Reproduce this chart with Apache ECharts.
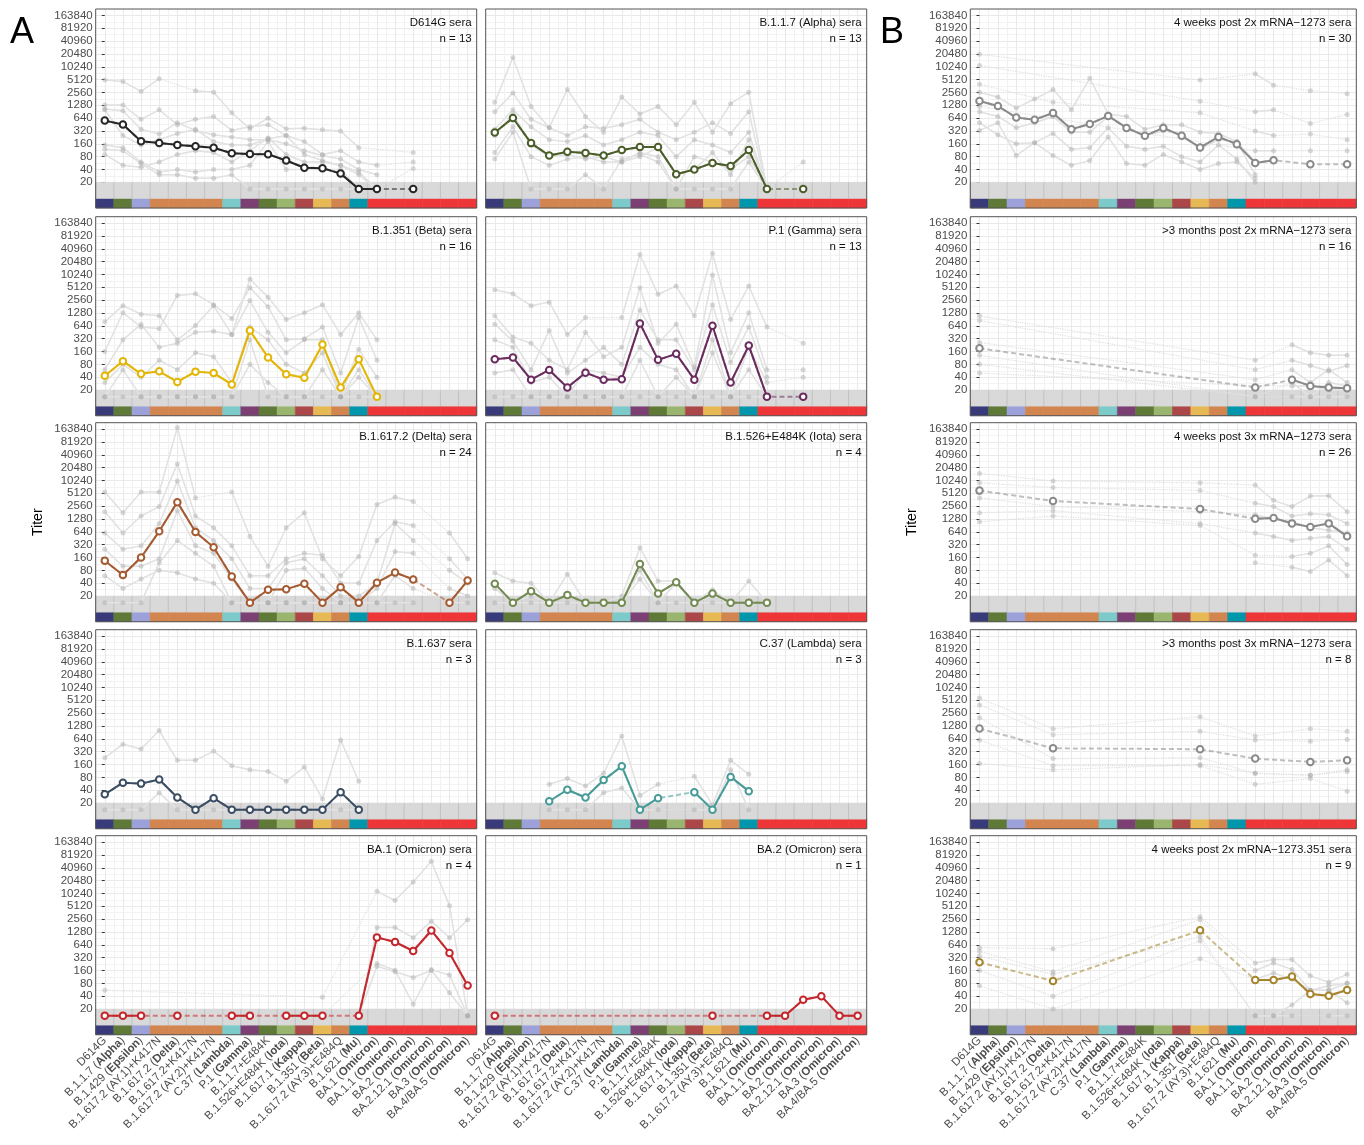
<!DOCTYPE html>
<html>
<head>
<meta charset="utf-8">
<script src="https://cdn.jsdelivr.net/npm/echarts@6/dist/echarts.min.js"></script>
<style>
html, body { margin: 0; background: #fff; }
#chart { width: 1364px; height: 1145px; }
</style>
</head>
<body>
<div id="chart"></div>
<script>
var _ = null;

// variants tested (x axis) and their colour key
var variants = ['D614G', 'B.1.1.7 (Alpha)', 'B.1.429 (Epsilon)', 'B.1.617.2 (AY.1)+K417N', 'B.1.617.2 (Delta)',
    'B.1.617.2+K417N', 'B.1.617.2 (AY.2)+K417N', 'C.37 (Lambda)', 'P.1 (Gamma)', 'B.1.1.7+E484K',
    'B.1.526+E484K (Iota)', 'B.1.617.1 (Kappa)', 'B.1.351 (Beta)', 'B.1.617.2 (AY.3)+E484Q', 'B.1.621 (Mu)',
    'BA.1 (Omicron)', 'BA.1.1 (Omicron)', 'BA.2 (Omicron)', 'BA.2.12.1 (Omicron)', 'BA.3 (Omicron)', 'BA.4/BA.5 (Omicron)'];
var variantColors = ['#393a7a', '#5f7a37', '#9da1da', '#d2854f', '#d2854f', '#d2854f', '#d2854f', '#7ccac9',
    '#7c3f74', '#5f7a37', '#9ab66e', '#ac4749', '#e7b955', '#d2854f', '#0097ad',
    '#ee3537', '#ee3537', '#ee3537', '#ee3537', '#ee3537', '#ee3537'];
var tickTiters = [20, 40, 80, 160, 320, 640, 1280, 2560, 5120, 10240, 20480, 40960, 81920, 163840];

// group means (titers below 20 are drawn at 14)
var d614gMean = [560, 452, 184, 168, 151, 141, 129, 96, 92, 91, 65, 44, 43, 32, 14, 14, _, 14, _, _, _];
var alphaMean = [294, 645, 166, 85, 104, 97, 85, 114, 134, 134, 31, 40, 57, 48, 114, 14, _, 14, _, _, _];
var mrna2xMean = [1610, 1230, 658, 590, 845, 350, 468, 720, 378, 246, 378, 246, 131, 232, 157, 57, 66, _, 53, _, 53];
var betaMean = [43, 95, 48, 55, 31, 54, 50, 27, 495, 116, 47, 39, 233, 23, 106, 14, _, _, _, _, _];
var gammaMean = [106, 116, 35, 59, 23, 51, 35, 36, 730, 102, 141, 35, 645, 30, 220, 14, _, 14, _, _, _];
var mrna2xLateMean = [190, _, _, _, _, _, _, _, _, _, _, _, _, _, _, 23, _, 35, 25, 23, 22];
var deltaMean = [134, 62, 160, 658, 3180, 635, 278, 57, 14, 28, 29, 39, 14, 32, 14, 41, 71, 49, _, 14, 46];
var iotaMean = [39, 14, 26, 14, 21, 14, 14, 14, 112, 23, 42, 14, 23, 14, 14, 14, _, _, _, _, _];
var mrna3xMean = [5920, _, _, _, 3380, _, _, _, _, _, _, _, 2200, _, _, 1300, 1350, 1010, 832, 1010, 502];
var b1637Mean = [32, 60, 57, 71, 27, 14, 26, 14, 14, 14, 14, 14, 14, 36, 14, _, _, _, _, _, _];
var lambdaMean = [_, _, _, 22, 41, 27, 69, 146, 14, 26, _, 36, 14, 82, 38, _, _, _, _, _, _];
var mrna3xLateMean = [1114, _, _, _, 384, _, _, _, _, _, _, _, 365, _, _, 220, _, _, 184, _, 201];
var ba1Mean = [14, 14, 14, _, 14, _, _, 14, 14, _, 14, 14, 14, _, 14, 957, 745, 459, 1390, 413, 71];
var ba2Mean = [14, _, _, _, _, _, _, _, _, _, _, _, 14, _, _, 14, 14, 33, 40, 14, 14];
var mrna351Mean = [249, _, _, _, 91, _, _, _, _, _, _, _, 1400, _, _, 96, 96, 115, 45, 41, 56];

// individual sera (a readable subset)
var d614gSera = [
    [5000, 4600, 2700, 5400, _, 2800, 2600, 850, 360, 640, 360, 370, 340, 320, 130, _, _, 100],
    [1300, 1300, 600, 1000, 450, 600, 700, 330, 400, 450, 250, 180, 90, 110, 60, 50, _, 60],
    [1050, 950, 350, 270, 500, 330, 260, 230, 200, 200, 160, 110, 85, 70, 40, 30],
    [150, 130, 60, 35, 40, 35, 40, 40, 50, 180, 40, 40, 40, 40, 14, 14, _, 42],
    [120, 110, 55, 30, 30, 25, 25, 30, 14, 14, 14, 14, 14, 14, 14, 14, _, 14],
    [90, 50, 45, 60, 90, 110, 100, 60, 110, 220, 90, 60, 60, 50, 35, 14],
    [1000, 250, 150, 200, 280, 350, 180, 150, 150, 210, 250, 90, 65, 50, 30, 14]
];
var alphaSera = [
    [1500, 17000, 1200, 380, 3000, 700, 300, 2000, 800, 1200, 450, 1500, 300, 1400, 2600, 14],
    [900, 2500, 600, 380, 250, 400, 370, 450, 600, 300, 200, 300, 500, 280, 900, 14],
    [350, 1000, 400, 200, 180, 250, 150, 200, 300, 250, 80, 200, 150, 100, 300, 14, _, 60],
    [100, 400, 80, 50, 70, 80, 60, 60, 100, 80, 14, 80, 60, 40, 80, 14],
    [70, 300, 14, 14, 14, 30, 14, 70, 90, 60, 14, 14, 14, 14, 60, 14, _, 14],
    [250, 800, 150, 80, 90, 70, 80, 60, 80, 130, 30, 40, 100, 30, 200, 14]
];
var mrna2xSera = [
    [20000, _, _, _, _, _, _, _, _, _, _, _, 5000, _, _, 7000, 3800, _, 2800, _, 2400],
    [11000, _, _, _, _, _, _, _, _, _, _, _, 1600, _, _, 900, 1000, _, 480, _, 780],
    [2600, 2000, 1100, 1800, 3000, 1000, 5500, 800, 700, 350, 450, 450, 300, 280, 180, 30],
    [900, 700, 380, 500, 700, 300, 300, 700, 400, 250, 320, 280, 120, 200, 180, 60],
    [500, 260, 160, 170, 280, 120, 130, 380, 140, 120, 140, 80, 60, 150, 70, 20],
    [330, 500, 85, 170, 85, 50, 65, 230, 55, 50, 90, 60, 40, 55, 60, 25],
    [4000, _, _, _, 1500, _, _, _, _, _, _, _, 850, _, _, 320, 250, _, 270, _, 200],
    [1200, _, _, _, _, _, _, _, _, _, _, _, _, _, _, 110, 110, _, 110, _, 110]
];
var betaSera = [
    [800, 1900, 1200, 1100, 300, 650, 1900, 400, 8000, 3000, 900, 1300, 2000, 400, 1300, 300],
    [160, 1300, 600, 550, 3300, 3600, 2000, 950, 5000, 1800, 300, 320, 600, 50, 1000, 100],
    [60, 300, 700, 200, 250, 450, 480, 400, 2500, 450, 150, 300, 300, 14, 180, 40],
    [30, 80, 40, 100, 60, 150, 120, 30, 600, 300, 80, 50, 150, 14, 60, 14],
    [14, 60, 14, 14, 14, 14, 14, 14, 80, 30, 14, 14, 60, 14, 40, 14],
    [14, 14, 14, 14, 14, 14, 14, 14, 300, 14, 14, 14, 14, 14, 14, 14]
];
var gammaSera = [
    [4500, 3600, 1900, 2300, 400, 1000, _, 1000, 30000, 3500, 5500, 1100, 32000, 900, 5500, 600, _, 250],
    [1100, 350, 250, 100, 60, 450, 120, 200, 5000, 250, 700, 70, 10000, 150, 1300, 60, _, 60],
    [700, 280, 60, 500, 50, 100, 200, 80, 1500, 300, 300, 60, 2000, 90, 600, 40],
    [300, 200, 30, 40, 14, 60, 50, 40, 200, 80, 60, 14, 300, 14, 200, 30, _, 40],
    [50, 60, 14, 14, 14, 14, 14, 14, 100, 14, 40, 14, 150, 14, 60, 14, _, 14],
    [14, 14, 14, 14, 14, 14, 14, 14, 14, 14, 14, 14, 14, 14, 14, 14]
];
var mrna2xLateSera = [
    [1100, _, _, _, _, _, _, _, _, _, _, _, _, _, _, 100, _, 230, 150, 130, 130],
    [850, _, _, _, _, _, _, _, _, _, _, _, _, _, _, 60, _, 100, 75, 55, 75],
    [260, _, _, _, _, _, _, _, _, _, _, _, _, _, _, 35, _, 60, 30, 60, 30],
    [130, _, _, _, _, _, _, _, _, _, _, _, _, _, _, 14, _, 30, 14, 30, 25],
    [80, _, _, _, _, _, _, _, _, _, _, _, _, _, _, 14, _, 14, 14, 14, 14],
    [50, _, _, _, _, _, _, _, _, _, _, _, _, _, _, 25, _, 25, 25, 20, 20]
];
var deltaSera = [
    [5500, 1800, 5500, 5500, 180000, 4000, _, 5500, 500, 100, 800, 1800, 150, 60, 170, 2800, 4200, 3300, _, 600, 150],
    [1900, 600, 1500, 2500, 25000, 1500, 800, 300, 60, 60, 150, 200, 180, 40, 40, 400, 1100, 900, _, 150, 50],
    [600, 250, 300, 1000, 10000, 800, 400, 150, 30, 30, 120, 150, 60, 20, 20, 40, 1000, 400, _, 80, 40],
    [250, 100, 100, 150, 2000, 300, 200, 50, 14, 14, 80, 90, 30, 14, 14, 30, 220, 200, _, 30, 20],
    [60, 30, 50, 80, 70, 50, 40, 14, 14, 14, 14, 14, 14, 14, 14, 14, 60, 30, _, 14, 14],
    [14, 14, 14, 120, 400, 200, 100, 14, 14, 14, 14, 14, 14, 14, 14, 14, 14, 14]
];
var iotaSera = [
    [70, 45, 40, 14, 65, 14, 14, 20, 270, 45, 45, 14, 28, 14, 45, 14],
    [30, 14, 20, 14, 20, 14, 14, 14, 80, 14, 40, 14, 20, 14, 14, 14],
    [14, 14, 14, 14, 14, 14, 14, 14, 50, 14, 14, 14, 14, 14, 14, 14]
];
var mrna3xSera = [
    [15000, _, _, _, 10000, _, _, _, _, _, _, _, 9000, _, _, 8000, 3500, 2500, 4400, 4500, 1900],
    [9000, _, _, _, 7000, _, _, _, _, _, _, _, 6000, _, _, 3000, 2500, 1500, 1700, 1600, 1000],
    [4000, _, _, _, 2500, _, _, _, _, _, _, _, 1900, _, _, 1600, 1300, 1100, 800, 700, 600],
    [1800, _, _, _, 2000, _, _, _, _, _, _, _, 1000, _, _, 600, 500, 400, 450, 500, 250],
    [1100, _, _, _, 1500, _, _, _, _, _, _, _, 900, _, _, 180, _, 170, 200, 300, 110],
    [_, _, _, _, _, _, _, _, _, _, _, _, _, _, _, 120, _, 95, 75, 140, 60]
];
var b1637Sera = [
    [230, 480, 370, 1000, 200, 200, 330, 150, 120, 110, 65, 140, 25, 600, 65],
    [14, 14, 14, 35, 14, 14, 14, 14, 14, 14, 14, 14, 14, 14, 14]
];
var lambdaSera = [
    [_, _, _, 55, 75, 50, 100, 750, 30, 55, _, 85, 18, 200, 95],
    [_, _, _, 14, 14, 14, 35, 45, 14, 14, _, 14, 14, 120, 14]
];
var mrna3xLateSera = [
    [5800, _, _, _, 1100, _, _, _, _, _, _, _, 2100, _, _, 750, _, _, 1100, _, 960],
    [4000, _, _, _, 800, _, _, _, _, _, _, _, 960, _, _, 600, _, _, 560, _, 620],
    [2000, _, _, _, 220, _, _, _, _, _, _, _, 230, _, _, 100, _, _, 90, _, 120],
    [600, _, _, _, 150, _, _, _, _, _, _, _, 150, _, _, 55, _, _, 75, _, 38],
    [170, _, _, _, 120, _, _, _, _, _, _, _, 160, _, _, 100, _, _, 90, _, 110]
];
var ba1Sera = [
    [55, _, _, _, _, _, _, _, _, _, _, _, 38, _, _, 11500, 7000, 19000, 58000, 5300, 14],
    [14, 14, 14, _, 14, _, _, 14, 14, _, 14, 14, 14, _, 14, 1640, 1640, 940, 2300, 940, 2470],
    [_, _, _, _, _, _, _, _, _, _, _, _, 14, _, _, 233, 162, 26, 168, 125, 14],
    [_, _, _, _, _, _, _, _, _, _, _, _, _, _, 14, 200, 150, 110, 160, 48, 14]
];
var ba2Sera = [];
var mrna351Sera = [
    [550, _, _, _, 520, _, _, _, _, _, _, _, 2900, _, _, 240, 290, 290, 120, 85, 130],
    [450, _, _, _, 150, _, _, _, _, _, _, _, 2500, _, _, 160, 240, 170, 55, 55, 80],
    [350, _, _, _, 130, _, _, _, _, _, _, _, 1000, _, _, 14, 14, 25, 55, 55, 28],
    [160, _, _, _, 40, _, _, _, _, _, _, _, 800, _, _, 14, 14, 14, _, 14, 14],
    [70, _, _, _, 20, _, _, _, _, _, _, _, 300, _, _, 100, 140, 100, 55, 70, 80]
];

// panels in reading order (rows of three)
var panels = [
    { title: 'D614G sera', n: 13, color: '#262626', mean: d614gMean, sera: d614gSera },
    { title: 'B.1.1.7 (Alpha) sera', n: 13, color: '#4b5e2a', mean: alphaMean, sera: alphaSera },
    { title: '4 weeks post 2x mRNA\u22121273 sera', n: 30, color: '#8a8a8a', mean: mrna2xMean, sera: mrna2xSera },
    { title: 'B.1.351 (Beta) sera', n: 16, color: '#e3b505', mean: betaMean, sera: betaSera },
    { title: 'P.1 (Gamma) sera', n: 13, color: '#6a2c5e', mean: gammaMean, sera: gammaSera },
    { title: '>3 months post 2x mRNA\u22121273 sera', n: 16, color: '#8a8a8a', mean: mrna2xLateMean, sera: mrna2xLateSera },
    { title: 'B.1.617.2 (Delta) sera', n: 24, color: '#a55b32', mean: deltaMean, sera: deltaSera },
    { title: 'B.1.526+E484K (Iota) sera', n: 4, color: '#748b53', mean: iotaMean, sera: iotaSera },
    { title: '4 weeks post 3x mRNA\u22121273 sera', n: 26, color: '#8a8a8a', mean: mrna3xMean, sera: mrna3xSera },
    { title: 'B.1.637 sera', n: 3, color: '#3a4d63', mean: b1637Mean, sera: b1637Sera },
    { title: 'C.37 (Lambda) sera', n: 3, color: '#479b97', mean: lambdaMean, sera: lambdaSera },
    { title: '>3 months post 3x mRNA\u22121273 sera', n: 8, color: '#8a8a8a', mean: mrna3xLateMean, sera: mrna3xLateSera },
    { title: 'BA.1 (Omicron) sera', n: 4, color: '#c4262b', mean: ba1Mean, sera: ba1Sera },
    { title: 'BA.2 (Omicron) sera', n: 1, color: '#c4262b', mean: ba2Mean, sera: ba2Sera },
    { title: '4 weeks post 2x mRNA\u22121273.351 sera', n: 9, color: '#a6842d', mean: mrna351Mean, sera: mrna351Sera }
];

// layout
var colLeft = [95.7, 485.7, 970.3];
var colWidth = [381, 381, 386];
var rowTop = [9, 216.7, 422.7, 629.7, 835.7];
var rowH = 199;
var FONT = '"Liberation Sans", Arial, Helvetica, sans-serif';

// titers are drawn on a log2 scale (units of doublings above 10)
function lg(v) { return v == null ? null : Math.log2(v / 10); }
var tickVals = tickTiters.map(lg);
var stripLo = lg(5), stripHi = lg(8.4), bandHi = lg(20);

function xLabel(s) {
    return s.replace(/\(([A-Z][a-z]+)\)/, '({b|$1})');
}

var grids = [], xAxes = [], yAxes = [], series = [], graphics = [];

panels.forEach(function (p, g) {
    var row = Math.floor(g / 3), col = g % 3;
    var bottomRow = row === 4, labelled = col !== 1;
    var xi = 2 * g;

    grids.push({
        left: colLeft[col], top: rowTop[row], width: colWidth[col], height: rowH,
        show: true, borderColor: '#555', borderWidth: 1, backgroundColor: 'transparent',
        z: 10, outerBoundsMode: 'none'
    });

    xAxes.push({
        gridIndex: g, type: 'category', data: variants, boundaryGap: true,
        axisLine: { show: false },
        axisTick: { show: bottomRow, alignWithLabel: true, interval: 0, length: 3, lineStyle: { color: '#333' } },
        axisLabel: {
            show: bottomRow, interval: 0, rotate: 45, margin: 4,
            fontSize: 11.5, color: '#4d4d4d', fontFamily: FONT,
            formatter: xLabel,
            rich: { b: { fontWeight: 'bold', fontSize: 11.5, color: '#4d4d4d', fontFamily: FONT } }
        },
        splitLine: { show: false }
    });
    xAxes.push({
        gridIndex: g, type: 'value', min: -0.5, max: 20.5, interval: 0.5,
        axisLine: { show: false }, axisTick: { show: false }, axisLabel: { show: false },
        splitLine: { show: true, lineStyle: { color: ['#f1f1f1', '#e9e9e9'], width: 1 } }
    });

    yAxes.push({
        gridIndex: g, type: 'value', min: -1, max: 14.5, interval: 1,
        name: (row === 2 && labelled) ? 'Titer' : '',
        nameLocation: 'middle', nameGap: 51, nameRotate: 90,
        nameTextStyle: { fontSize: 14, color: '#000', fontFamily: FONT },
        axisLine: { show: false },
        axisTick: { show: labelled, length: 3, lineStyle: { color: '#333' }, customValues: tickVals },
        axisLabel: {
            show: labelled, customValues: tickVals, margin: 3,
            fontSize: 11.5, color: '#4d4d4d', fontFamily: FONT,
            formatter: function (v) { return String(Math.round(10 * Math.pow(2, v))); }
        },
        splitLine: { show: true, lineStyle: { color: '#e9e9e9', width: 1 } },
        minorTick: { show: false, splitNumber: 2 },
        minorSplitLine: { show: true, lineStyle: { color: '#f3f3f3', width: 1 } }
    });

    // grey "below detection" band and the variant colour strip
    series.push({
        type: 'custom', xAxisIndex: xi, yAxisIndex: g, silent: true, z: 1,
        data: variants.map(function (v, i) { return [i, stripLo]; }),
        encode: { x: 0, y: 1 },
        renderItem: function (params, api) {
            var i = api.value(0);
            var w = api.size([1, 0])[0];
            var lo = api.coord([i, stripLo]), hi = api.coord([i, stripHi]), top = api.coord([i, bandHi]);
            var x0 = lo[0] - w / 2;
            return {
                type: 'group',
                children: [
                    { type: 'rect', shape: { x: x0, y: hi[1], width: w, height: lo[1] - hi[1] },
                      style: { fill: variantColors[i], stroke: variantColors[i], lineWidth: 0.6 } },
                    { type: 'rect', shape: { x: x0, y: top[1], width: w, height: hi[1] - top[1] },
                      style: { fill: '#d9d9d9', stroke: '#d9d9d9', lineWidth: 0.6 } },
                    { type: 'line', shape: { x1: x0, y1: top[1], x2: x0, y2: hi[1] },
                      style: { stroke: '#c2c2c2', lineWidth: 1 } }
                ]
            };
        }
    });

    // individual sera
    p.sera.forEach(function (s) {
        series.push({
            type: 'line', xAxisIndex: xi, yAxisIndex: g, silent: true, z: 2,
            data: s.map(lg), connectNulls: true, symbol: 'none',
            lineStyle: { color: '#e0e0e0', width: 1.2, type: 'dotted' }
        });
    });
    p.sera.forEach(function (s) {
        series.push({
            type: 'line', xAxisIndex: xi, yAxisIndex: g, silent: true, z: 3,
            data: s.map(lg), connectNulls: false,
            symbol: 'circle', symbolSize: 5, showSymbol: true, showAllSymbol: true,
            itemStyle: { color: 'rgba(170,170,170,0.45)' },
            lineStyle: { color: '#e2e2e2', width: 1.5 }
        });
    });

    // group mean: dashed across untested variants, solid between neighbours
    var m = p.mean.map(lg);
    series.push({
        type: 'line', xAxisIndex: xi, yAxisIndex: g, silent: true, z: 4,
        data: m, connectNulls: true, symbol: 'none',
        lineStyle: { color: p.color, width: 2, type: [5, 3], opacity: 0.55 }
    });
    series.push({
        type: 'line', xAxisIndex: xi, yAxisIndex: g, silent: true, z: 5,
        data: m, connectNulls: false,
        symbol: 'emptyCircle', symbolSize: 6.5, showSymbol: true, showAllSymbol: true,
        itemStyle: { color: p.color, borderWidth: 2 },
        lineStyle: { color: p.color, width: 2 }
    });

    // panel caption, two right-aligned lines
    var capRight = 1364 - (colLeft[col] + colWidth[col] - 5);
    graphics.push({
        type: 'text', z: 100, right: capRight, top: rowTop[row] + 8,
        style: { text: p.title, font: '11.5px ' + FONT, fill: '#111' }
    });
    graphics.push({
        type: 'text', z: 100, right: capRight, top: rowTop[row] + 24,
        style: { text: 'n = ' + p.n, font: '11.5px ' + FONT, fill: '#111' }
    });
});

graphics.push({ type: 'text', z: 100, x: 10, y: 33, style: { text: 'A', font: '36px ' + FONT, fill: '#000', verticalAlign: 'middle' } });
graphics.push({ type: 'text', z: 100, x: 880, y: 33, style: { text: 'B', font: '36px ' + FONT, fill: '#000', verticalAlign: 'middle' } });

var chart = echarts.init(document.getElementById('chart'));
chart.setOption({
    animation: false,
    backgroundColor: '#fff',
    textStyle: { fontFamily: FONT },
    grid: grids,
    xAxis: xAxes,
    yAxis: yAxes,
    series: series,
    graphic: graphics
});
</script>
</body>
</html>
